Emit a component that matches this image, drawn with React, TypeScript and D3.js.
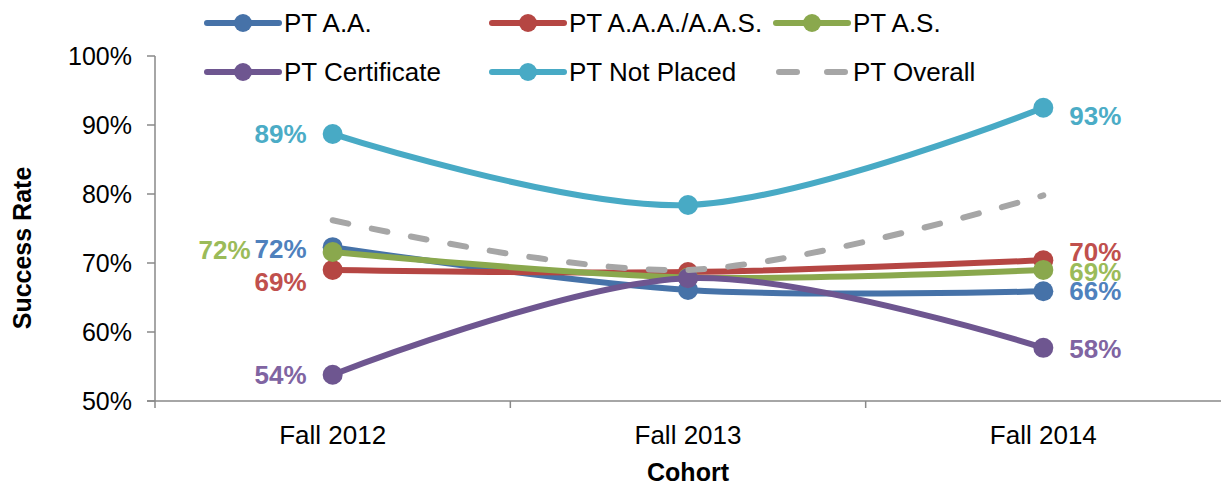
import React from 'react';
import * as d3 from 'd3';

const cohorts = ['Fall 2012', 'Fall 2013', 'Fall 2014'];

const seriesNames = ['PT A.A.', 'PT A.A.A./A.A.S.', 'PT A.S.', 'PT Certificate', 'PT Not Placed', 'PT Overall'];

const ptAA = [72.3, 66.1, 65.9];
const ptAAA = [69.0, 68.7, 70.4];
const ptAS = [71.6, 67.9, 69.0];
const ptCertificate = [53.8, 67.8, 57.7];
const ptNotPlaced = [88.7, 78.4, 92.5];
const ptOverall = [76.2, 69.0, 79.8];

const yTicks = [50, 60, 70, 80, 90, 100];

const lineColors = ['#4672A8', '#B54643', '#8AA84D', '#6E5690', '#48AAC5', '#A6A6A6'];
const labelColors = ['#4F81BD', '#C0504D', '#9BBB59', '#8064A2', '#4BACC6', '#A6A6A6'];

// label placement per series: [side at start, dy], [side at end, dy]
const labelPlace: Array<{ start?: { dx: number; dy: number }; end?: { dx: number; dy: number } }> = [
  { start: { dx: -26, dy: 2 }, end: { dx: 26, dy: 0 } },
  { start: { dx: -26, dy: 12 }, end: { dx: 26, dy: -8 } },
  { start: { dx: -82, dy: -2 }, end: { dx: 26, dy: 2 } },
  { start: { dx: -26, dy: 0 }, end: { dx: 26, dy: 1 } },
  { start: { dx: -26, dy: 0 }, end: { dx: 26, dy: 8 } },
  {},
];

const W = 1221;
const H = 485;
const plotLeft = 155;
const plotRight = 1221;
const plotTop = 56;
const plotBottom = 401;
const font = '"Liberation Sans", Arial, sans-serif';

export default function App() {
  const data = [ptAA, ptAAA, ptAS, ptCertificate, ptNotPlaced, ptOverall];

  const x = d3.scaleBand<string>().domain(cohorts).range([plotLeft, plotRight]);
  const y = d3.scaleLinear().domain([50, 100]).range([plotBottom, plotTop]);
  const cx = (c: string) => (x(c) || 0) + x.bandwidth() / 2;

  const line = d3
    .line<number>()
    .x((_, i) => cx(cohorts[i]))
    .y((d) => y(d))
    .curve(d3.curveCardinal.tension(0));

  const legendCols = [207, 492, 776];
  const legendRows = [23, 72];

  return (
    <svg width={W} height={H} style={{ position: 'absolute', left: 0, top: 0 }} fontFamily={font}>
      <rect width={W} height={H} fill="#fff" />

      {/* y axis */}
      <line x1={plotLeft} x2={plotLeft} y1={plotTop} y2={plotBottom} stroke="#898989" strokeWidth={1.5} />
      {yTicks.map((t) => (
        <g key={t}>
          <line x1={plotLeft - 8} x2={plotLeft} y1={y(t)} y2={y(t)} stroke="#898989" strokeWidth={1.5} />
          <text x={plotLeft - 23} y={y(t)} dy="0.35em" textAnchor="end" fontSize={25} fill="#000">
            {t}%
          </text>
        </g>
      ))}

      {/* x axis */}
      <line x1={plotLeft - 8} x2={plotRight} y1={plotBottom} y2={plotBottom} stroke="#898989" strokeWidth={1.5} />
      {cohorts.map((c) => (
        <g key={c}>
          <line x1={x(c)} x2={x(c)} y1={plotBottom} y2={plotBottom + 7} stroke="#898989" strokeWidth={1.5} />
          <text x={cx(c)} y={435} dy="0.35em" textAnchor="middle" fontSize={26} fill="#000">
            {c}
          </text>
        </g>
      ))}

      <text x={688} y={472} dy="0.35em" textAnchor="middle" fontSize={25} fontWeight="bold">
        Cohort
      </text>
      <text transform="translate(22,248) rotate(-90)" dy="0.35em" textAnchor="middle" fontSize={25} fontWeight="bold">
        Success Rate
      </text>

      {/* series */}
      {data.map((vals, s) => {
        const dashed = s === 5;
        return (
          <g key={seriesNames[s]}>
            <path
              d={line(vals) || ''}
              fill="none"
              stroke={lineColors[s]}
              strokeWidth={6}
              strokeLinecap="round"
              strokeDasharray={dashed ? '16 24' : undefined}
            />
            {!dashed &&
              vals.map((v, i) => (
                <circle key={i} cx={cx(cohorts[i])} cy={y(v)} r={10} fill={lineColors[s]} />
              ))}
          </g>
        );
      })}

      {/* data labels */}
      {data.map((vals, s) => {
        const p = labelPlace[s];
        const out: React.ReactNode[] = [];
        if (p.start) {
          out.push(
            <text
              key={`${s}-s`}
              x={cx(cohorts[0]) + p.start.dx}
              y={y(vals[0]) + p.start.dy}
              dy="0.35em"
              textAnchor="end"
              fontSize={26}
              fontWeight="bold"
              fill={labelColors[s]}
            >
              {Math.round(vals[0])}%
            </text>
          );
        }
        if (p.end) {
          out.push(
            <text
              key={`${s}-e`}
              x={cx(cohorts[2]) + p.end.dx}
              y={y(vals[2]) + p.end.dy}
              dy="0.35em"
              textAnchor="start"
              fontSize={26}
              fontWeight="bold"
              fill={labelColors[s]}
            >
              {Math.round(vals[2])}%
            </text>
          );
        }
        return <g key={s}>{out}</g>;
      })}

      {/* legend */}
      {seriesNames.map((name, i) => {
        const lx = legendCols[i % 3];
        const ly = legendRows[Math.floor(i / 3)];
        const dashed = i === 5;
        return (
          <g key={name}>
            {dashed ? (
              <line
                x1={lx + 3}
                x2={lx + 70}
                y1={ly}
                y2={ly}
                stroke={lineColors[i]}
                strokeWidth={6}
                strokeLinecap="round"
                strokeDasharray="18 30"
              />
            ) : (
              <>
                <line x1={lx} x2={lx + 72} y1={ly} y2={ly} stroke={lineColors[i]} strokeWidth={6} strokeLinecap="round" />
                <circle cx={lx + 36} cy={ly} r={9} fill={lineColors[i]} />
              </>
            )}
            <text x={lx + 77} y={ly} dy="0.35em" fontSize={26} fill="#000">
              {name}
            </text>
          </g>
        );
      })}
    </svg>
  );
}
